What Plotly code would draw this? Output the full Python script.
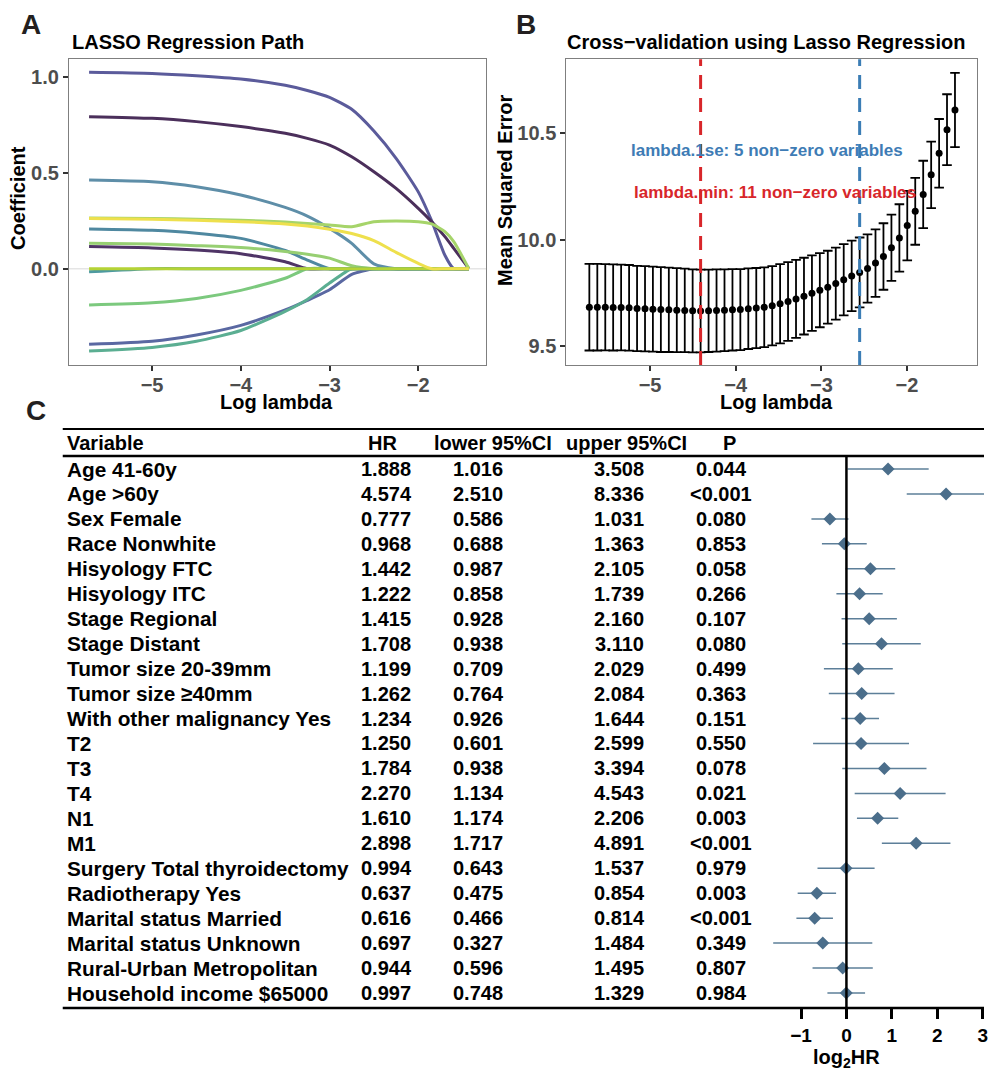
import numpy as np
import plotly.graph_objects as go

W, H = 988, 1073
FONT = "Liberation Sans, Arial, sans-serif"

# ---------------- Panel A: LASSO path ----------------
path_log_lambda = [-5.71, -5.0, -4.5, -4.0, -3.5, -3.25, -3.0, -2.75, -2.5, -2.25, -2.0, -1.85, -1.7, -1.6, -1.43]
coef_v1 = [1.023, 1.017, 1.005, 0.988, 0.955, 0.928, 0.892, 0.83, 0.717, 0.575, 0.40, 0.25, 0.07, 0.0, 0.0]
coef_v2 = [0.792, 0.783, 0.766, 0.74, 0.705, 0.679, 0.644, 0.583, 0.505, 0.418, 0.314, 0.245, 0.167, 0.106, 0.0]
coef_v3 = [0.462, 0.453, 0.427, 0.384, 0.319, 0.274, 0.21, 0.132, 0.025, 0.0, 0.0, 0.0, 0.0, 0.0, 0.0]
coef_v4 = [0.262, 0.258, 0.252, 0.245, 0.233, 0.222, 0.205, 0.183, 0.146, 0.085, 0.028, 0.0, 0.0, 0.0, 0.0]
coef_v5 = [0.264, 0.262, 0.257, 0.252, 0.243, 0.236, 0.228, 0.219, 0.245, 0.248, 0.245, 0.233, 0.193, 0.141, 0.0]
coef_v6 = [0.207, 0.200, 0.185, 0.158, 0.095, 0.045, 0.0, 0.0, 0.0, 0.0, 0.0, 0.0, 0.0, 0.0, 0.0]
coef_v7 = [0.132, 0.128, 0.120, 0.110, 0.090, 0.075, 0.055, 0.015, 0.0, 0.0, 0.0, 0.0, 0.0, 0.0, 0.0]
coef_v8 = [0.115, 0.108, 0.097, 0.078, 0.036, 0.0, 0.0, 0.0, 0.0, 0.0, 0.0, 0.0, 0.0, 0.0, 0.0]
coef_v9 = [-0.189, -0.178, -0.155, -0.113, -0.05, 0.0, 0.0, 0.0, 0.0, 0.0, 0.0, 0.0, 0.0, 0.0, 0.0]
coef_v10 = [-0.394, -0.378, -0.345, -0.295, -0.215, -0.165, -0.11, -0.03, 0.0, 0.0, 0.0, 0.0, 0.0, 0.0, 0.0]
coef_v11 = [-0.429, -0.41, -0.378, -0.322, -0.222, -0.16, -0.075, 0.0, 0.0, 0.0, 0.0, 0.0, 0.0, 0.0, 0.0]
coef_v12 = [-0.016, 0.0, 0.0, 0.0, 0.0, 0.0, 0.0, 0.0, 0.0, 0.0, 0.0, 0.0, 0.0, 0.0, 0.0]
coef_v13 = [0.0, 0.0, 0.0, 0.0, 0.0, 0.0, 0.0, 0.0, 0.0, 0.0, 0.0, 0.0, 0.0, 0.0, 0.0]

path_colors = ["#5B5B9B", "#4B2F5B", "#5E8EA8", "#EEE04D", "#A6D46A", "#4F88A0", "#97CF72",
               "#4F3466", "#7CC97E", "#5A68A2", "#5BAE92", "#4E9AA0", "#B5D336"]

# ---------------- Panel B: CV curve ----------------
cv_log_lambda = [-5.709, -5.616, -5.523, -5.431, -5.338, -5.245, -5.152, -5.059, -4.967, -4.874,
                 -4.781, -4.688, -4.595, -4.503, -4.410, -4.317, -4.224, -4.131, -4.038, -3.946,
                 -3.853, -3.760, -3.667, -3.574, -3.482, -3.389, -3.296, -3.203, -3.110, -3.018,
                 -2.925, -2.832, -2.739, -2.646, -2.553, -2.461, -2.368, -2.275, -2.182, -2.089,
                 -1.997, -1.904, -1.811, -1.718, -1.625, -1.533, -1.440]
cv_mse = [9.684, 9.684, 9.684, 9.683, 9.683, 9.681, 9.678, 9.677, 9.675, 9.673,
          9.672, 9.670, 9.669, 9.667, 9.666, 9.667, 9.669, 9.670, 9.672, 9.673,
          9.677, 9.680, 9.684, 9.691, 9.700, 9.711, 9.723, 9.736, 9.750, 9.764,
          9.778, 9.795, 9.813, 9.831, 9.847, 9.866, 9.891, 9.922, 9.963, 10.009,
          10.067, 10.134, 10.213, 10.305, 10.406, 10.517, 10.609]
cv_se = [0.203, 0.203, 0.202, 0.202, 0.201, 0.201, 0.200, 0.200, 0.199, 0.199,
         0.198, 0.197, 0.196, 0.195, 0.194, 0.193, 0.193, 0.192, 0.191, 0.190,
         0.189, 0.188, 0.187, 0.186, 0.186, 0.185, 0.183, 0.180, 0.177, 0.174,
         0.171, 0.169, 0.167, 0.165, 0.164, 0.160, 0.158, 0.156, 0.155, 0.158,
         0.163, 0.157, 0.158, 0.156, 0.161, 0.166, 0.174]
lambda_min = -4.410
lambda_1se = -2.553
label_1se = "lambda.1se: 5 non\u2212zero variables"
label_min = "lambda.min: 11 non\u2212zero variables"

# ---------------- Panel C: forest table ----------------
variables = ["Age 41-60y", "Age >60y", "Sex Female", "Race Nonwhite", "Hisyology FTC", "Hisyology ITC",
             "Stage Regional", "Stage Distant", "Tumor size 20-39mm", "Tumor size \u226540mm",
             "With other malignancy Yes", "T2", "T3", "T4", "N1", "M1", "Surgery Total thyroidectomy",
             "Radiotherapy Yes", "Marital status Married", "Marital status Unknown",
             "Rural-Urban Metropolitan", "Household income $65000"]
hr = [1.888, 4.574, 0.777, 0.968, 1.442, 1.222, 1.415, 1.708, 1.199, 1.262, 1.234,
      1.250, 1.784, 2.270, 1.610, 2.898, 0.994, 0.637, 0.616, 0.697, 0.944, 0.997]
hr_lower = [1.016, 2.510, 0.586, 0.688, 0.987, 0.858, 0.928, 0.938, 0.709, 0.764, 0.926,
            0.601, 0.938, 1.134, 1.174, 1.717, 0.643, 0.475, 0.466, 0.327, 0.596, 0.748]
hr_upper = [3.508, 8.336, 1.031, 1.363, 2.105, 1.739, 2.160, 3.110, 2.029, 2.084, 1.644,
            2.599, 3.394, 4.543, 2.206, 4.891, 1.537, 0.854, 0.814, 1.484, 1.495, 1.329]
p_values = ["0.044", "<0.001", "0.080", "0.853", "0.058", "0.266", "0.107", "0.080", "0.499", "0.363",
            "0.151", "0.550", "0.078", "0.021", "0.003", "<0.001", "0.979", "0.003", "<0.001",
            "0.349", "0.807", "0.984"]
headers = ["Variable", "HR", "lower 95%CI", "upper 95%CI", "P"]
forest_ticks = [-1, 0, 1, 2, 3]


def px(p):
    return p / W


def py(p):
    return 1 - p / H


fig = go.Figure()

# Panel A traces (drawing order chosen so yellow/green sit on top along zero)
coef_list = [coef_v1, coef_v2, coef_v3, coef_v6, coef_v7, coef_v8, coef_v9, coef_v10, coef_v11,
             coef_v12, coef_v5, coef_v13, coef_v4]
color_list = [path_colors[0], path_colors[1], path_colors[2], path_colors[5], path_colors[6],
              path_colors[7], path_colors[8], path_colors[9], path_colors[10], path_colors[11],
              path_colors[4], path_colors[12], path_colors[3]]
for coefs, col in zip(coef_list, color_list):
    fig.add_trace(go.Scatter(x=path_log_lambda, y=coefs, mode="lines", xaxis="x", yaxis="y",
                             line=dict(color=col, width=3, shape="spline", smoothing=0.6),
                             showlegend=False, hoverinfo="skip"))

# Panel B trace
fig.add_trace(go.Scatter(x=cv_log_lambda, y=cv_mse, mode="markers", xaxis="x2", yaxis="y2",
                         marker=dict(color="black", size=7),
                         error_y=dict(type="data", array=cv_se, color="black", thickness=1.8, width=4.8),
                         showlegend=False))

# Panel C forest
log2_hr = np.log2(hr)
log2_lo = np.log2(hr_lower)
log2_hi = np.log2(hr_upper)
rows = list(range(1, len(variables) + 1))
fig.add_trace(go.Scatter(x=log2_hr, y=rows, mode="markers", xaxis="x3", yaxis="y3",
                         marker=dict(symbol="diamond", size=10, color="#4B6E8B"),
                         error_x=dict(type="data", symmetric=False, array=log2_hi - log2_hr,
                                      arrayminus=log2_hr - log2_lo, color="#5D7F99",
                                      thickness=1.5, width=0),
                         showlegend=False))

tick_font = dict(family=FONT, size=20, color="#4D4D4D", weight="bold")
axis_common = dict(showgrid=False, zeroline=False, showline=True, mirror=True, linecolor="#7F7F7F",
                   linewidth=1.2, ticks="outside", ticklen=5, tickwidth=1.5, tickcolor="#333333",
                   tickfont=tick_font)

fig.update_layout(
    width=W, height=H, margin=dict(l=0, r=0, t=0, b=0),
    paper_bgcolor="white", plot_bgcolor="white",
    font=dict(family=FONT, color="black"),
    xaxis=dict(domain=[px(69.3), px(488.3)], range=[-5.936, -1.233], anchor="y",
               tickvals=[-5, -4, -3, -2], ticklabelstandoff=-3, **axis_common),
    yaxis=dict(domain=[py(365), py(59.3)], range=[-0.5016, 1.0906], anchor="x",
               tickvals=[0, 0.5, 1.0], ticktext=["0.0", "0.5", "1.0"], **axis_common),
    xaxis2=dict(domain=[px(568.7), px(980.7)], range=[-5.977, -1.186], anchor="y2",
                tickvals=[-5, -4, -3, -2], ticklabelstandoff=-3, **axis_common),
    yaxis2=dict(domain=[py(365), py(59.3)], range=[9.413, 10.847], anchor="x2",
                tickvals=[9.5, 10.0, 10.5], ticktext=["9.5", "10.0", "10.5"], **axis_common),
    xaxis3=dict(domain=[px(760), 1.0], range=[-1.971, 3.029], anchor="y3", showgrid=False,
                zeroline=False, showline=False, ticks="outside", ticklen=10, tickwidth=2.5,
                tickcolor="black", tickvals=forest_ticks, ticklabeloverflow="allow",
                tickfont=dict(family=FONT, size=19, color="black", weight="bold")),
    yaxis3=dict(domain=[py(1008), py(456)], range=[22.6, 0.479], anchor="x3", visible=False),
)

shapes = [
    dict(type="line", xref="x domain", x0=0, x1=1, yref="y", y0=0, y1=0,
         line=dict(color="#E5E5E5", width=1.5), layer="below"),
    dict(type="line", xref="x2", x0=lambda_min, x1=lambda_min, yref="y2 domain", y0=0, y1=1,
         line=dict(color="#D8262A", width=3, dash="14px,9px")),
    dict(type="line", xref="x2", x0=lambda_1se, x1=lambda_1se, yref="y2 domain", y0=0, y1=1,
         line=dict(color="#3B7DB5", width=3, dash="14px,9px")),
    dict(type="line", xref="paper", x0=px(63), x1=1, yref="paper", y0=py(429), y1=py(429),
         line=dict(color="black", width=2)),
    dict(type="line", xref="paper", x0=px(63), x1=1, yref="paper", y0=py(456), y1=py(456),
         line=dict(color="black", width=2.5)),
    dict(type="line", xref="paper", x0=px(63), x1=1, yref="paper", y0=py(1008), y1=py(1008),
         line=dict(color="black", width=2.5)),
    dict(type="line", xref="x3", x0=0, x1=0, yref="paper", y0=py(1008), y1=py(456),
         line=dict(color="black", width=2.5)),
]
fig.update_layout(shapes=shapes)

ann = []
def add_text(text, x, y, size=20, color="black", xanchor="center", yanchor="middle",
             xref="paper", yref="paper", angle=0):
    ann.append(dict(text=text, x=x, y=y, xref=xref, yref=yref, xanchor=xanchor, yanchor=yanchor,
                    showarrow=False, textangle=angle,
                    font=dict(family=FONT, size=size, color=color, weight="bold")))

# panel labels
add_text("A", px(31), py(25), size=28, color="#231F20")
add_text("B", px(528), py(25), size=28, color="#231F20")
add_text("C", px(36), py(411), size=28, color="#231F20")
# titles
add_text("LASSO Regression Path", px(70), py(42), xanchor="left")
add_text("Cross\u2212validation using Lasso Regression", px(567), py(42), xanchor="left")
# axis titles
add_text("Coefficient", px(18), py(198), angle=-90)
add_text("Log lambda", px(278), py(402))
add_text("Mean Squared Error", px(507), py(190), angle=-90)
add_text("Log lambda", px(780), py(402))
add_text("log<sub>2</sub>HR", px(850), py(1058))
# CV annotations
add_text(label_1se, -3.64, 10.42, size=17, color="#3E7CB5", xref="x2", yref="y2")
add_text(label_min, -3.54, 10.22, size=17, color="#D8262A", xref="x2", yref="y2")

# table header
header_x = [65, 384, 495, 629, 732]
for h, hx in zip(headers, header_x):
    add_text(h, px(hx), py(443), xanchor="left" if h == "Variable" else "center")

# table rows
col_x = [388, 480, 622, 724]
for r, var, v_hr, v_lo, v_hi, p in zip(rows, variables, hr, hr_lower, hr_upper, p_values):
    add_text(var, px(65), r, size=20.8, xanchor="left", yref="y3")
    add_text(f"{v_hr:.3f}", px(col_x[0]), r, yref="y3")
    add_text(f"{v_lo:.3f}", px(col_x[1]), r, yref="y3")
    add_text(f"{v_hi:.3f}", px(col_x[2]), r, yref="y3")
    add_text(p, px(col_x[3]), r, yref="y3")

fig.update_layout(annotations=ann)
fig.write_html("out.html")
